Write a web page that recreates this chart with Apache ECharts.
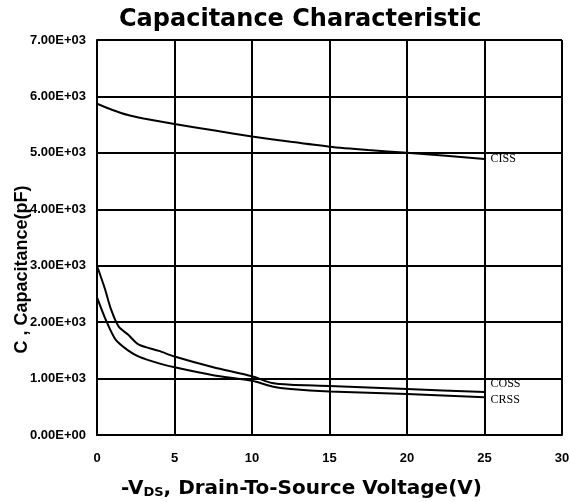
<!DOCTYPE html>
<html>
<head>
<meta charset="utf-8">
<script src="https://cdn.jsdelivr.net/npm/echarts@6/dist/echarts.min.js"></script>
<style>
  html, body { margin: 0; padding: 0; background: #fff; }
  #chart { width: 569px; height: 502px; }
</style>
</head>
<body>
<div id="chart"></div>
<script>
// curve points: [Vds, pF]
var ciss = [[0, 5870], [1, 5760], [2, 5670], [3, 5610], [5, 5510], [7.5, 5400], [10, 5290],
  [12.5, 5195], [15, 5110], [17.5, 5050], [20, 5000], [22.5, 4950], [25, 4890]];
var coss = [[0, 3000], [0.5, 2600], [0.9, 2230], [1.4, 1920], [2, 1780], [2.7, 1600], [4, 1490],
  [5, 1390], [7.5, 1200], [10, 1040], [11.3, 920], [12.5, 890], [15, 870], [20, 815], [25, 760]];
var crss = [[0, 2440], [0.6, 2020], [1.2, 1690], [2, 1500], [2.7, 1390], [4, 1270], [5, 1200],
  [7.5, 1060], [10, 960], [11.3, 860], [12.5, 815], [15, 770], [20, 725], [25, 670]];
var seriesNames = ['CISS', 'COSS', 'CRSS'];

// 7000 -> "7.00E+03"
function sciLabel(v) {
  if (v === 0) return '0.00E+00';
  var e = Math.floor(Math.log10(Math.abs(v)));
  var m = (v / Math.pow(10, e)).toFixed(2);
  var es = (e < 0 ? '-' : '+') + (Math.abs(e) < 10 ? '0' : '') + Math.abs(e);
  return m + 'E' + es;
}

var myChart = echarts.init(document.getElementById('chart'));

function lineSeries(name, data, offset) {
  return {
    name: name,
    type: 'line',
    data: data,
    showSymbol: false,
    smooth: 0.25,
    lineStyle: { color: '#000', width: 2 },
    endLabel: {
      show: true,
      formatter: '{a}',
      fontFamily: 'Liberation Serif',
      fontSize: 12,
      color: '#000',
      distance: 6,
      offset: offset
    },
    animation: false
  };
}

var option = {
  backgroundColor: '#fff',
  title: {
    text: 'Capacitance Characteristic',
    left: 114,
    top: 3,
    textStyle: { fontFamily: 'DejaVu Sans', fontWeight: 'bold', fontSize: 24, color: '#000' }
  },
  grid: { left: 97, right: 7, top: 40, bottom: 67, outerBoundsMode: 'none' },
  xAxis: {
    type: 'value',
    min: 0, max: 30, interval: 5,
    name: '{a|-V}{s|DS}{a|, Drain-To-Source Voltage(V)}',
    nameLocation: 'middle',
    nameGap: 44,
    nameMoveOverlap: false,
    nameTextStyle: {
      padding: [0, 56, 0, 0],
      rich: {
        a: { fontFamily: 'DejaVu Sans', fontWeight: 'bold', fontSize: 20, color: '#000' },
        s: { fontFamily: 'DejaVu Sans', fontWeight: 'bold', fontSize: 13, color: '#000', verticalAlign: 'bottom' }
      }
    },
    axisLine: { lineStyle: { color: '#000', width: 2 } },
    axisTick: { show: false },
    splitLine: { show: true, lineStyle: { color: '#000', width: 2 } },
    axisLabel: { margin: 17, fontFamily: 'Liberation Sans', fontWeight: 'bold', fontSize: 13, color: '#000' }
  },
  yAxis: {
    type: 'value',
    min: 0, max: 7000, interval: 1000,
    name: 'C , Capacitance(pF)',
    nameLocation: 'middle',
    nameGap: 66,
    nameMoveOverlap: false,
    nameTextStyle: {
      fontFamily: 'Liberation Sans', fontWeight: 'bold', fontSize: 18, color: '#000',
      padding: [0, 64, 0, 0]
    },
    axisLine: { show: true, lineStyle: { color: '#000', width: 2 } },
    axisTick: { show: false },
    splitLine: { show: true, lineStyle: { color: '#000', width: 2 } },
    axisLabel: { margin: 11, formatter: sciLabel, fontFamily: 'Liberation Sans', fontWeight: 'bold', fontSize: 13, color: '#000' }
  },
  series: [
    lineSeries(seriesNames[0], ciss, [0, 0]),
    lineSeries(seriesNames[1], coss, [0, -8]),
    lineSeries(seriesNames[2], crss, [0, 3])
  ]
};
myChart.setOption(option);
</script>
</body>
</html>
